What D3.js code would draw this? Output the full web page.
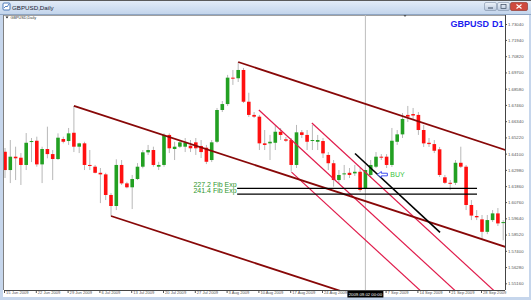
<!DOCTYPE html>
<html>
<head>
<meta charset="utf-8">
<script src="https://cdn.jsdelivr.net/npm/d3@7"></script>
<style>
  html, body { margin: 0; padding: 0; background: #fff; }
  svg { display: block; font-family: "Liberation Sans", Arial, sans-serif; }
</style>
</head>
<body>
<div id="chart"></div>
<script>
// GBPUSD daily bars, 15 Jun 2009 .. early Oct 2009 (one bar per slot, Sunday bars included)
const opens = [1.6423,1.6297,1.6389,1.6382,1.6332,1.6490,1.6499,1.6336,1.6442,1.6407,
  1.6373,1.6511,1.6497,1.6554,1.6458,1.6481,1.6332,1.6320,1.6278,1.6267,
  1.6125,1.6049,1.6332,1.6205,1.6178,1.6235,1.6320,1.6419,1.6435,1.6320,
  1.6332,1.6539,1.6442,1.6458,1.6458,1.6465,1.6488,1.6463,1.6451,1.6366,
  1.6492,1.6711,1.6752,1.6934,1.6930,1.6987,1.6768,1.6677,1.6665,1.6481,
  1.6481,1.6485,1.6561,1.6509,1.6504,1.6332,1.6557,1.6539,1.6500,1.6492,
  1.6497,1.6401,1.6344,1.6228,1.6269,1.6278,1.6274,1.6285,1.6173,1.6263,
  1.6320,1.6389,1.6389,1.6332,1.6492,1.6543,1.6677,1.6683,1.6677,1.6573,
  1.6485,1.6476,1.6440,1.6247,1.6209,1.6209,1.6347,1.6320,1.6056,1.5980,
  1.5957,1.5871,1.5952,1.5998,1.5933];
const closes = [1.6297,1.6389,1.6378,1.6332,1.6485,1.6497,1.6336,1.6442,1.6407,1.6373,
  1.6520,1.6492,1.6550,1.6458,1.6481,1.6332,1.6325,1.6278,1.6267,1.6125,
  1.6049,1.6332,1.6205,1.6178,1.6235,1.6320,1.6419,1.6435,1.6332,1.6332,
  1.6539,1.6447,1.6458,1.6488,1.6485,1.6447,1.6447,1.6421,1.6354,1.6488,
  1.6711,1.6752,1.6934,1.6927,1.6987,1.6768,1.6677,1.6665,1.6481,1.6470,
  1.6492,1.6561,1.6539,1.6499,1.6332,1.6557,1.6539,1.6492,1.6504,1.6504,
  1.6412,1.6344,1.6228,1.6263,1.6274,1.6263,1.6285,1.6159,1.6297,1.6332,
  1.6389,1.6385,1.6332,1.6499,1.6543,1.6649,1.6665,1.6673,1.6573,1.6481,
  1.6476,1.6430,1.6263,1.6209,1.6205,1.6347,1.6320,1.6056,1.5983,1.5971,
  1.5871,1.5952,1.5998,1.5929,1.5938];
const highs = [1.6449,1.6504,1.6458,1.6414,1.6552,1.6518,1.6527,1.6458,1.6596,1.6435,
  1.6550,1.6527,1.6587,1.6739,1.6485,1.6492,1.6435,1.6332,1.6311,1.6278,
  1.6138,1.6371,1.6366,1.6216,1.6263,1.6345,1.6435,1.6470,1.6458,1.6354,
  1.6550,1.6550,1.6492,1.6504,1.6518,1.6504,1.6518,1.6504,1.6470,1.6504,
  1.6725,1.6773,1.6953,1.6987,1.7042,1.7001,1.6830,1.6697,1.6677,1.6573,
  1.6539,1.6608,1.6587,1.6525,1.6518,1.6608,1.6573,1.6573,1.6608,1.6539,
  1.6518,1.6421,1.6366,1.6297,1.6332,1.6311,1.6332,1.6311,1.6332,1.6366,
  1.6421,1.6407,1.6407,1.6587,1.6573,1.6690,1.6739,1.6725,1.6697,1.6608,
  1.6518,1.6504,1.6456,1.6263,1.6228,1.6366,1.6458,1.6332,1.6090,1.6021,
  1.5987,1.5987,1.6021,1.6035,1.5952];
const lows = [1.6242,1.6207,1.6228,1.6194,1.6297,1.6352,1.6320,1.6207,1.6378,1.6228,
  1.6366,1.6481,1.6470,1.6421,1.6414,1.6297,1.6297,1.6274,1.6069,1.6090,
  1.5980,1.6021,1.6194,1.6171,1.6028,1.6228,1.6309,1.6401,1.6320,1.6297,
  1.6320,1.6414,1.6366,1.6449,1.6421,1.6421,1.6401,1.6380,1.6338,1.6352,
  1.6483,1.6697,1.6739,1.6884,1.6904,1.6759,1.6663,1.6656,1.6435,1.6435,
  1.6366,1.6435,1.6504,1.6490,1.6285,1.6311,1.6518,1.6435,1.6435,1.6435,
  1.6380,1.6297,1.6182,1.6201,1.6228,1.6242,1.6256,1.6145,1.6145,1.6242,
  1.6311,1.6366,1.6311,1.6318,1.6470,1.6518,1.6628,1.6642,1.6539,1.6456,
  1.6456,1.6414,1.6249,1.6201,1.6159,1.6194,1.6311,1.6021,1.5952,1.5952,
  1.5814,1.5855,1.5939,1.5911,1.5813];

// axis labels (one every 6 bars); the label under the cursor box is hidden
const dateTicks = ["15 Jun 2009","22 Jun 2009","29 Jun 2009","6 Jul 2009","13 Jul 2009",
  "20 Jul 2009","27 Jul 2009","3 Aug 2009","10 Aug 2009","17 Aug 2009","24 Aug 2009",
  "31 Aug 2009","7 Sep 2009","14 Sep 2009","21 Sep 2009","28 Sep 2009"];
const priceTicks = [1.7304,1.7194,1.7082,1.6970,1.6858,1.6746,1.6634,1.6522,1.6410,
  1.6298,1.6186,1.6076,1.5964,1.5852,1.5740,1.5628,1.5516];

// drawn objects: [bar1, price1, bar2, price2]
const channelLines = [[13,1.6739,60,1.6178],[20,1.5980,67,1.5419],[44,1.7042,90,1.6488]];
const fanLines = [[47.9,1.6711,82,1.5564],[57.9,1.6621,92,1.5474],[54.06,1.6283,78,1.5478]];
const blackLine = [66.04,1.6411,82.08,1.5867];
const fibLevels = [1.6171,1.6131];
const fibNames = ["227.2 Fib Exp","241.4 Fib Exp"];
const fibRange = [43.8,89.06];
const cursorBar = 68, cursorLabel = "2009.09.02 00:00";
const buySignal = [71.2,1.6266];

const W = 531, H = 300;
const plot = {left: 4, right: 505, top: 15, bottom: 290};

const svg = d3.select("#chart").append("svg")
  .attr("width", W).attr("height", H);

const defs = svg.append("defs");
const tb = defs.append("linearGradient").attr("id", "tb").attr("x1", 0).attr("y1", 0).attr("x2", 0).attr("y2", 1);
tb.append("stop").attr("offset", "0%").attr("stop-color", "#e4edf8");
tb.append("stop").attr("offset", "100%").attr("stop-color", "#c3d5ec");
const btn = defs.append("linearGradient").attr("id", "btn").attr("x1", 0).attr("y1", 0).attr("x2", 0).attr("y2", 1);
btn.append("stop").attr("offset", "0%").attr("stop-color", "#eef3fa");
btn.append("stop").attr("offset", "100%").attr("stop-color", "#b8c8de");
defs.append("clipPath").attr("id", "plotclip").append("rect")
  .attr("x", plot.left).attr("y", plot.top)
  .attr("width", plot.right - plot.left).attr("height", plot.bottom - plot.top);

// window frame
svg.append("rect").attr("width", W).attr("height", H).attr("fill", "#fff");
svg.append("rect").attr("x", 0).attr("y", 0).attr("width", W).attr("height", 14).attr("fill", "url(#tb)");
svg.append("line").attr("x1", 0).attr("x2", W).attr("y1", 0.5).attr("y2", 0.5).attr("stroke", "#5a5a5a");
svg.append("rect").attr("x", 0).attr("y", 14).attr("width", 3).attr("height", H - 14).attr("fill", "#c6d6ec");
svg.append("rect").attr("x", W - 2).attr("y", 14).attr("width", 2).attr("height", H - 14).attr("fill", "#c6d6ec");
svg.append("rect").attr("x", 0).attr("y", H - 3).attr("width", W).attr("height", 3).attr("fill", "#c6d6ec");
svg.append("line").attr("x1", 0).attr("x2", W).attr("y1", 14.5).attr("y2", 14.5).attr("stroke", "#8fa6c4");

// title icon + text
svg.append("rect").attr("x", 3).attr("y", 3).attr("width", 7).attr("height", 7).attr("rx", 1)
  .attr("fill", "#fff").attr("stroke", "#4a78b8");
svg.append("path").attr("d", "M4,8 L6,6 L7,7 L9,4").attr("fill", "none").attr("stroke", "#2d64b4").attr("stroke-width", 0.8);
svg.append("text").attr("x", 12).attr("y", 9.6).attr("font-size", 6.2).attr("fill", "#1c2634").text("GBPUSD,Daily");

// caption buttons
svg.append("rect").attr("x", 484.5).attr("y", 2.5).attr("width", 12).attr("height", 8).attr("rx", 1.5)
  .attr("fill", "url(#btn)").attr("stroke", "#7d8ea6").attr("stroke-width", 0.6);
svg.append("line").attr("x1", 488).attr("x2", 493).attr("y1", 8).attr("y2", 8).attr("stroke", "#3a4a60").attr("stroke-width", 1);
svg.append("rect").attr("x", 497.5).attr("y", 2.5).attr("width", 12).attr("height", 8).attr("rx", 1.5)
  .attr("fill", "url(#btn)").attr("stroke", "#7d8ea6").attr("stroke-width", 0.6);
svg.append("rect").attr("x", 501).attr("y", 4.5).attr("width", 5).attr("height", 4)
  .attr("fill", "none").attr("stroke", "#3a4a60").attr("stroke-width", 0.7);
svg.append("rect").attr("x", 510.5).attr("y", 2.5).attr("width", 17).attr("height", 8).attr("rx", 1.5)
  .attr("fill", "#cf4a3e").attr("stroke", "#8a2a22").attr("stroke-width", 0.6);
svg.append("path").attr("d", "M516.5,4.5 L521.5,8.5 M521.5,4.5 L516.5,8.5")
  .attr("stroke", "#fff").attr("stroke-width", 1.1);

// scales
const x = d3.scaleLinear().domain([0, 94]).range([5, 503.2]);
const y = d3.scaleLinear().domain([1.5516, 1.7304]).range([283.3, 24]);

// plot frame
svg.append("line").attr("x1", plot.left - 0.5).attr("x2", plot.left - 0.5)
  .attr("y1", plot.top).attr("y2", plot.bottom).attr("stroke", "#808080");
svg.append("line").attr("x1", plot.left).attr("x2", plot.right)
  .attr("y1", plot.top + 0.5).attr("y2", plot.top + 0.5).attr("stroke", "#a0a0a0");

// cursor vertical line
svg.append("line").attr("x1", x(cursorBar)).attr("x2", x(cursorBar))
  .attr("y1", plot.top).attr("y2", plot.bottom).attr("stroke", "#bdbdbd").attr("stroke-width", 1);

const g = svg.append("g").attr("clip-path", "url(#plotclip)");

// candles
const bars = opens.map((o, i) => ({i, o, h: highs[i], l: lows[i], c: closes[i]}));
g.selectAll(".wick").data(bars).enter().append("line")
  .attr("class", "wick")
  .attr("x1", d => x(d.i)).attr("x2", d => x(d.i))
  .attr("y1", d => y(d.h)).attr("y2", d => y(d.l))
  .attr("stroke", "#b8b8b8").attr("stroke-width", 1);
g.selectAll(".body").data(bars).enter().append("rect")
  .attr("class", "body")
  .attr("x", d => x(d.i) - 1.8).attr("width", 3.6)
  .attr("y", d => y(Math.max(d.o, d.c)))
  .attr("height", d => Math.max(1, Math.abs(y(d.o) - y(d.c))))
  .attr("fill", d => d.c >= d.o ? "#22a022" : "#ff1010");

// rays
function ray(l, to) {
  const s = (l[3] - l[1]) / (l[2] - l[0]);
  return [[x(l[0]), y(l[1])], [x(to), y(l[1] + s * (to - l[0]))]];
}
const lineGen = d3.line();
g.selectAll(".fan").data(fanLines).enter().append("path")
  .attr("d", d => lineGen(ray(d, 120)))
  .attr("fill", "none").attr("stroke", "#e01c4c").attr("stroke-width", 1.2);
g.selectAll(".channel").data(channelLines).enter().append("path")
  .attr("d", d => lineGen(ray(d, 120)))
  .attr("fill", "none").attr("stroke", "#880808").attr("stroke-width", 1.8);
g.append("path")
  .attr("d", lineGen([[x(blackLine[0]), y(blackLine[1])], [x(blackLine[2]), y(blackLine[3])]]))
  .attr("stroke", "#000").attr("stroke-width", 1.6);

// fib expansion levels
g.selectAll(".fib").data(fibLevels).enter().append("line")
  .attr("x1", x(fibRange[0])).attr("x2", x(fibRange[1]))
  .attr("y1", d => y(d)).attr("y2", d => y(d))
  .attr("stroke", "#000").attr("stroke-width", 1.3);
g.selectAll(".fibtxt").data(fibLevels).enter().append("text")
  .attr("x", x(fibRange[0]) - 0.5).attr("y", d => y(d) - 1.2)
  .attr("text-anchor", "end").attr("font-size", 7).attr("fill", "#2e962e")
  .text((d, i) => fibNames[i]);

// buy marker
const bx = x(buySignal[0]), by = y(buySignal[1]);
g.append("path")
  .attr("d", `M${bx - 5},${by} L${bx - 1},${by - 3} L${bx - 1},${by - 1.3} L${bx + 5},${by - 1.3} L${bx + 5},${by + 1.3} L${bx - 1},${by + 1.3} L${bx - 1},${by + 3} Z`)
  .attr("fill", "#fff").attr("stroke", "#2a3cf0").attr("stroke-width", 0.9);
g.append("text").attr("x", bx + 8).attr("y", by + 2.6)
  .attr("font-size", 7).attr("fill", "#3cc43c").text("BUY");

// symbol caption
svg.append("text").attr("x", 489).attr("y", 26.5).attr("text-anchor", "end")
  .attr("font-size", 9).attr("font-weight", "bold").attr("fill", "#1c1cf0").text("GBPUSD");
svg.append("text").attr("x", 492).attr("y", 26.5)
  .attr("font-size", 9).attr("font-weight", "bold").attr("fill", "#1c1cf0").text("D1");

// chart name
svg.append("path").attr("d", "M5.5,16.5 L8.5,16.5 L7,18.5 Z").attr("fill", "#222");
svg.append("text").attr("x", 10.5).attr("y", 19).attr("font-size", 3.8).attr("fill", "#333").text("GBPUSD,Daily");
// chart shift marker
svg.append("path").attr("d", "M403.5,15 L406.5,15 L405,17 Z").attr("fill", "#555");

// price axis
const yAxis = d3.axisRight(y).tickValues(priceTicks).tickFormat(d3.format(".5f"))
  .tickSize(2).tickPadding(1);
const yAxisG = svg.append("g").attr("transform", `translate(${plot.right},0)`).call(yAxis);
yAxisG.select(".domain").remove();
yAxisG.selectAll("line").attr("stroke", "#555");
yAxisG.selectAll("text").attr("font-size", 4.3).attr("fill", "#555").attr("font-family", "'Liberation Sans', Arial, sans-serif");
svg.append("line").attr("x1", plot.right + 0.5).attr("x2", plot.right + 0.5)
  .attr("y1", plot.top).attr("y2", plot.bottom).attr("stroke", "#444");

// time axis
const cx = x(cursorBar);
const shownTicks = dateTicks.map((d, i) => i * 6).filter(v => Math.abs(x(v) - cx) > 20);
const xAxis = d3.axisBottom(x).tickValues(shownTicks)
  .tickFormat(d => dateTicks[d / 6]).tickSize(3).tickPadding(0);
const xAxisG = svg.append("g").attr("transform", `translate(0,${plot.bottom})`).call(xAxis);
xAxisG.select(".domain").remove();
xAxisG.selectAll("line").attr("stroke", "#555").attr("transform", "translate(-1,0)");
xAxisG.selectAll("text").attr("text-anchor", "start").attr("x", 0.5).attr("y", 1.5)
  .attr("dy", "0.71em").attr("font-size", 4.1).attr("fill", "#555")
  .attr("font-family", "'Liberation Sans', Arial, sans-serif");
svg.append("line").attr("x1", plot.left).attr("x2", plot.right)
  .attr("y1", plot.bottom + 0.5).attr("y2", plot.bottom + 0.5).attr("stroke", "#444");

// cursor date box
svg.append("rect").attr("x", cx - 18).attr("y", plot.bottom + 1).attr("width", 36).attr("height", 6.5).attr("fill", "#000");
svg.append("text").attr("x", cx).attr("y", plot.bottom + 6).attr("text-anchor", "middle")
  .attr("font-size", 4.3).attr("fill", "#fff").text(cursorLabel);
</script>
</body>
</html>
